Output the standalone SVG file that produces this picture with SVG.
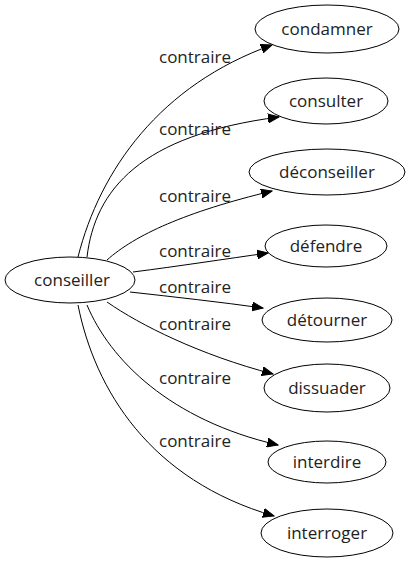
<svg xmlns="http://www.w3.org/2000/svg" width="410" height="563" viewBox="0 0 410 563">
<defs>
<style>
.n ellipse{fill:#fff;stroke:#000;stroke-width:1}
text{font-family:"Open Sans","DejaVu Sans",sans-serif;font-size:17px;fill:#222}
.n text{text-anchor:middle}
.e path{fill:none;stroke:#000;stroke-width:1;marker-end:url(#ah)}
</style>
<marker id="ah" markerUnits="userSpaceOnUse" markerWidth="12" markerHeight="10" viewBox="0 0 12 10" refX="11" refY="5" orient="auto">
<path d="M0,0.5 L11,5 L0,9.5 Z" fill="#000" stroke="#000"/>
</marker>
</defs>
<rect width="410" height="563" fill="#fff"/>
<g id="edges" class="e">
<path d="M78,257 C100,170 160,85 272,45"/>
<path d="M87,257 C95,190 140,135 279,117"/>
<path d="M107,260 C135,235 185,212 272,191"/>
<path d="M133,272 C180,266 225,259 268,253"/>
<path d="M130,292 C175,297 220,302 263,308"/>
<path d="M107,302 C140,325 200,355 273,374"/>
<path d="M87,305 C110,360 170,420 278,445"/>
<path d="M78,305 C95,390 150,480 274,516"/>
</g>
<g id="labels">
<text x="159" y="63">contraire</text>
<text x="159" y="135">contraire</text>
<text x="159" y="202">contraire</text>
<text x="159" y="257">contraire</text>
<text x="159" y="293">contraire</text>
<text x="159" y="330">contraire</text>
<text x="159" y="384">contraire</text>
<text x="159" y="447">contraire</text>
</g>
<g id="conseiller" class="n"><ellipse cx="70" cy="280" rx="65" ry="23"/><text x="72" y="286">conseiller</text></g>
<g id="condamner" class="n"><ellipse cx="327" cy="29" rx="72" ry="24"/><text x="327" y="35">condamner</text></g>
<g id="consulter" class="n"><ellipse cx="326" cy="101" rx="62" ry="23"/><text x="326" y="107">consulter</text></g>
<g id="deconseiller" class="n"><ellipse cx="327" cy="172" rx="78" ry="23"/><text x="327" y="178">déconseiller</text></g>
<g id="defendre" class="n"><ellipse cx="326" cy="246" rx="61" ry="21"/><text x="326" y="252">défendre</text></g>
<g id="detourner" class="n"><ellipse cx="327" cy="320" rx="65" ry="22"/><text x="327" y="326">détourner</text></g>
<g id="dissuader" class="n"><ellipse cx="327" cy="388" rx="63" ry="24"/><text x="327" y="394">dissuader</text></g>
<g id="interdire" class="n"><ellipse cx="327" cy="462" rx="59" ry="21"/><text x="327" y="468">interdire</text></g>
<g id="interroger" class="n"><ellipse cx="327" cy="533" rx="66" ry="24"/><text x="327" y="539">interroger</text></g>
</svg>
